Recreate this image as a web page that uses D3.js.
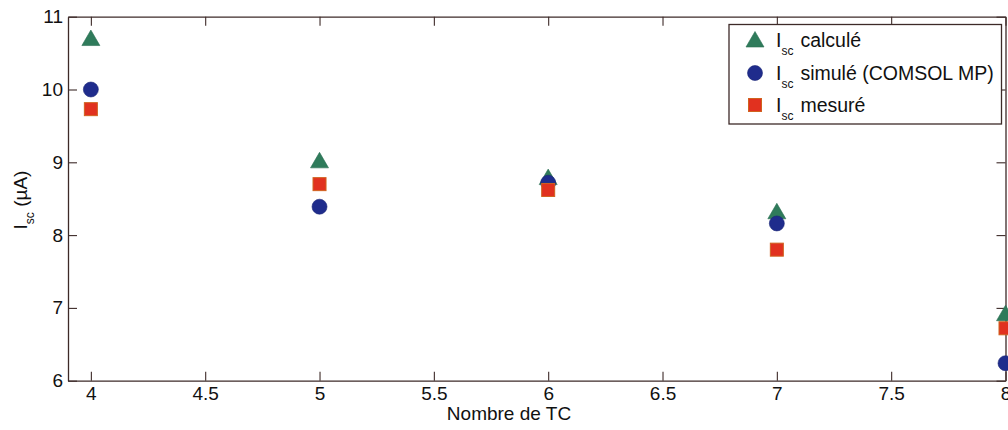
<!DOCTYPE html>
<html><head><meta charset="utf-8">
<script src="https://cdn.jsdelivr.net/npm/d3@7"></script>
<style>
html,body{margin:0;padding:0;background:#fff;}
svg{display:block;font-family:"Liberation Sans",Arial,sans-serif;}
</style></head>
<body><svg id="c" width="1008" height="430"></svg>
<script>
const nbTC = [4, 5, 6, 7, 8];
const iscCalcule = [10.70, 9.02, 8.79, 8.32, 6.92];
const iscSimule = [10.00, 8.39, 8.72, 8.16, 6.24];
const iscMesure = [9.73, 8.70, 8.62, 7.80, 6.72];
const xTicks = [4, 4.5, 5, 5.5, 6, 6.5, 7, 7.5, 8];
const yTicks = [6, 7, 8, 9, 10, 11];
const seriesNames = ["calculé", "simulé (COMSOL MP)", "mesuré"];

const svg = d3.select("#c");
const L = 68, R = 1005.5, T = 16.7, B = 380.7;
const x = d3.scaleLinear().domain([3.9, 8]).range([L, R]);
const y = d3.scaleLinear().domain([6, 11]).range([B, T]);
const axisColor = "#3d2a28";

function styleAxis(g){
  g.selectAll("path.domain").attr("stroke", axisColor).attr("stroke-width", 1.3);
  g.selectAll(".tick line").attr("stroke", axisColor).attr("stroke-width", 1.1);
  g.selectAll(".tick text").attr("fill", "#111").style("font-size", "19px").style("font-family", '"Liberation Sans",Arial,sans-serif');
}

// axes
const gx = svg.append("g").attr("transform", `translate(0,${B})`)
  .call(d3.axisBottom(x).tickValues(xTicks).tickFormat(d => String(d)).tickSizeInner(-9).tickSizeOuter(0).tickPadding(6));
styleAxis(gx);
gx.selectAll(".tick text").attr("dy", "0.71em").attr("y", 6);
const gxt = svg.append("g").attr("transform", `translate(0,${T})`)
  .call(d3.axisTop(x).tickValues(xTicks).tickFormat("").tickSizeInner(-9).tickSizeOuter(0));
styleAxis(gxt);
const gy = svg.append("g").attr("transform", `translate(${L},0)`)
  .call(d3.axisLeft(y).tickValues(yTicks).tickFormat(d => String(d)).tickSizeInner(-9).tickSizeOuter(0).tickPadding(6));
styleAxis(gy);
gy.selectAll(".tick text").attr("x", -5);
const gyr = svg.append("g").attr("transform", `translate(${R},0)`)
  .call(d3.axisRight(y).tickValues(yTicks).tickFormat("").tickSizeInner(-9).tickSizeOuter(0));
styleAxis(gyr);

// axis titles
svg.append("text").attr("x", 509).attr("y", 420).attr("text-anchor", "middle")
  .style("font-size", "19px").attr("fill", "#111").text("Nombre de TC");
const yl = svg.append("text").attr("transform", "translate(27,200) rotate(-90)")
  .attr("text-anchor", "middle").style("font-size", "19px").attr("fill", "#111");
yl.append("tspan").text("I");
yl.append("tspan").attr("dy", 7).style("font-size", "12px").text("sc");
yl.append("tspan").attr("dy", -7).text(" (µA)");

// symbols
const colors = {tri: "#2f7b5b", circ: "#1f2c8c", sq: "#e1311f"};
function drawSym(g, kind){
  if(kind === "tri"){
    g.append("path").attr("d", "M0,-8.5 L9,7 L-9,7 Z").attr("fill", colors.tri).attr("stroke", "#2a6e52").attr("stroke-width", 0.6);
  } else if(kind === "circ"){
    g.append("circle").attr("r", 7.5).attr("fill", colors.circ).attr("stroke", "#1a2575").attr("stroke-width", 0.6);
  } else {
    g.append("rect").attr("x", -6.5).attr("y", -6.5).attr("width", 13).attr("height", 13).attr("fill", colors.sq).attr("stroke", "#d0621f").attr("stroke-width", 1);
  }
}
const series = [
  {kind: "tri", vals: iscCalcule},
  {kind: "circ", vals: iscSimule},
  {kind: "sq", vals: iscMesure}
];
series.forEach(s => {
  const g = svg.append("g");
  nbTC.forEach((n, i) => {
    const p = g.append("g").attr("transform", `translate(${x(n)},${y(s.vals[i])})`);
    drawSym(p, s.kind);
  });
});

// legend
const lg = svg.append("g");
lg.append("rect").attr("x", 729).attr("y", 24.5).attr("width", 272.5).attr("height", 99.5)
  .attr("fill", "#fff").attr("stroke", axisColor).attr("stroke-width", 1.3);
const rowsY = [40, 73, 105];
series.forEach((s, i) => {
  const p = lg.append("g").attr("transform", `translate(755,${rowsY[i]})`);
  drawSym(p, s.kind);
  const t = lg.append("text").attr("x", 776).attr("y", rowsY[i] + 6.5).style("font-size", "19.5px").attr("fill", "#111");
  t.append("tspan").text("I");
  t.append("tspan").attr("dy", 8).style("font-size", "12px").text("sc");
  t.append("tspan").attr("dy", -8).attr("dx", 7).text(seriesNames[i]);
});
</script></body></html>
